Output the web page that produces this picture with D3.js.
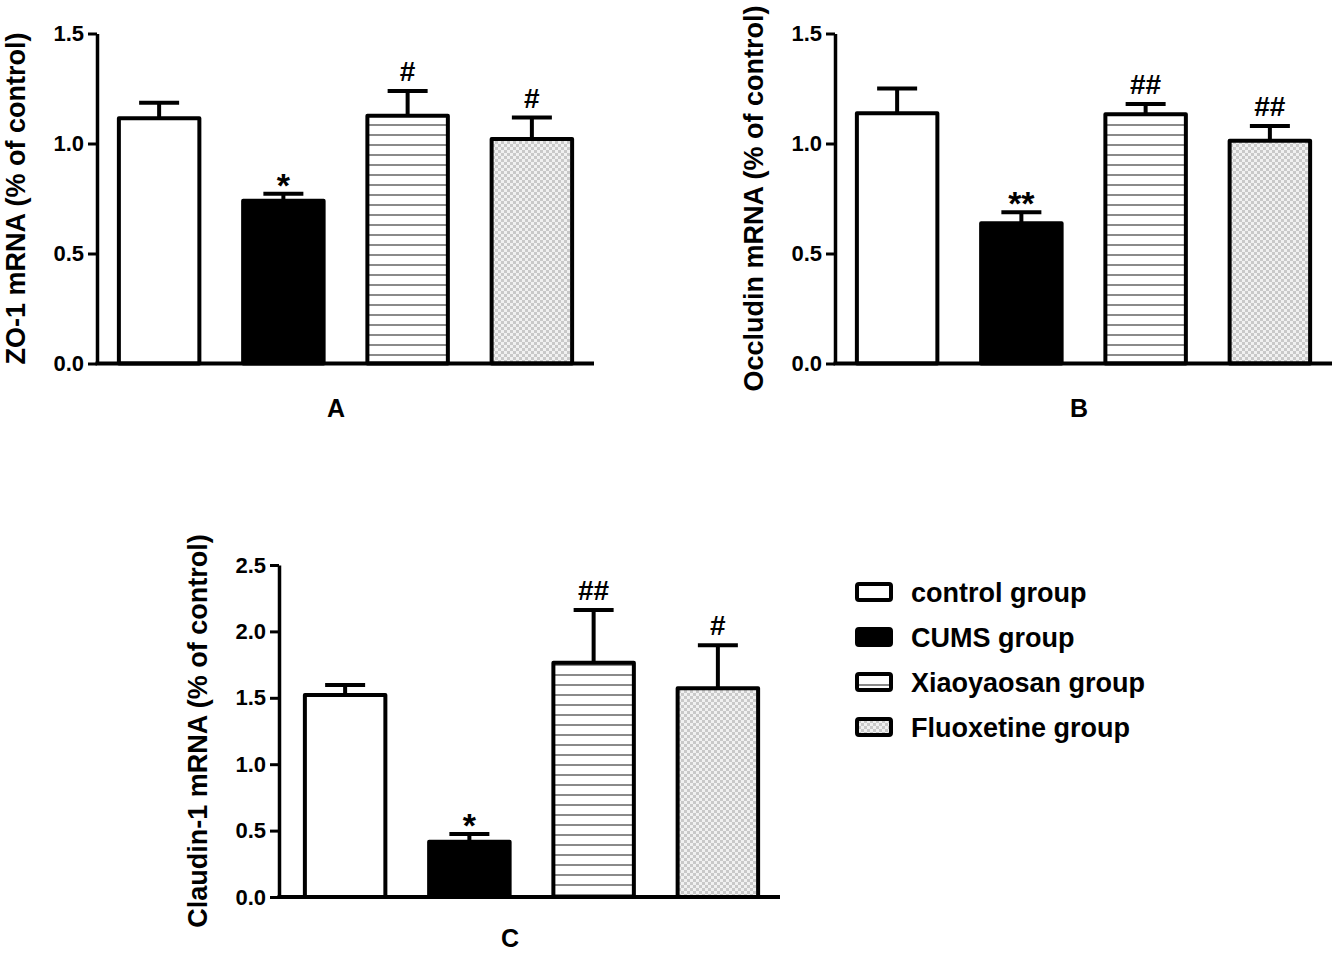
<!DOCTYPE html>
<html>
<head>
<meta charset="utf-8">
<script src="https://cdn.jsdelivr.net/npm/d3@7"></script>
<style>
  html, body { margin: 0; padding: 0; background: #fff; }
  svg { display: block; }
  text { font-family: "Liberation Sans", Arial, Helvetica, sans-serif; font-weight: bold; fill: #000; }
</style>
</head>
<body>
<svg id="chart" width="1335" height="953"></svg>
<script>
// ---------------- data ----------------
const groups = ["control group", "CUMS group", "Xiaoyaosan group", "Fluoxetine group"];

const zo1Means = [1.115, 0.74, 1.126, 1.02];
const zo1Errors = [0.07, 0.032, 0.113, 0.098];
const zo1Marks = ["", "*", "#", "#"];

const occludinMeans = [1.138, 0.638, 1.133, 1.013];
const occludinErrors = [0.112, 0.05, 0.047, 0.067];
const occludinMarks = ["", "**", "##", "##"];

const claudinMeans = [1.521, 0.416, 1.764, 1.572];
const claudinErrors = [0.075, 0.058, 0.397, 0.323];
const claudinMarks = ["", "*", "##", "#"];

const ticksAB = [0, 0.5, 1.0, 1.5];
const ticksC = [0, 0.5, 1.0, 1.5, 2.0, 2.5];

const yTitles = ["ZO-1 mRNA (% of control)", "Occludin mRNA (% of control)", "Claudin-1 mRNA (% of control)"];
const panelLetters = ["A", "B", "C"];

// ---------------- drawing ----------------
const svg = d3.select("#chart");
const defs = svg.append("defs");

// horizontal stripes pattern
const stripes = defs.append("pattern").attr("id", "stripes")
  .attr("patternUnits", "userSpaceOnUse").attr("width", 10).attr("height", 10);
stripes.append("rect").attr("width", 10).attr("height", 10).attr("fill", "#fff");
stripes.append("line").attr("x1", 0).attr("x2", 10).attr("y1", 5).attr("y2", 5)
  .attr("stroke", "#757575").attr("stroke-width", 1.7);

// fine checker pattern
const checker = defs.append("pattern").attr("id", "checker")
  .attr("patternUnits", "userSpaceOnUse").attr("width", 6).attr("height", 6);
checker.append("rect").attr("width", 6).attr("height", 6).attr("fill", "#f1f1f1");
checker.append("rect").attr("width", 3).attr("height", 3).attr("fill", "#c9c9c9");
checker.append("rect").attr("x", 3).attr("y", 3).attr("width", 3).attr("height", 3).attr("fill", "#c9c9c9");

const fills = ["#fff", "#000", "url(#stripes)", "url(#checker)"];

const panels = [
  { means: zo1Means, errors: zo1Errors, marks: zo1Marks, ticks: ticksAB, max: 1.5,
    axisX: 97, xRange: [97, 594], yRange: [363.5, 33.5], titleX: 15, letterPos: [336, 417] },
  { means: occludinMeans, errors: occludinErrors, marks: occludinMarks, ticks: ticksAB, max: 1.5,
    axisX: 835, xRange: [835, 1332], yRange: [363.5, 33.5], titleX: 753, letterPos: [1079, 417] },
  { means: claudinMeans, errors: claudinErrors, marks: claudinMarks, ticks: ticksC, max: 2.5,
    axisX: 279, xRange: [283, 780], yRange: [897, 565], titleX: 197, letterPos: [510, 947] }
];

panels.forEach((p, pi) => {
  const g = svg.append("g");
  const x = d3.scaleBand().domain(groups).range(p.xRange).paddingInner(0.32).paddingOuter(0.16);
  const y = d3.scaleLinear().domain([0, p.max]).range(p.yRange);
  const bw = x.bandwidth();

  // y axis
  const yAxis = g.append("g").attr("transform", `translate(${p.axisX},0)`)
    .call(d3.axisLeft(y).tickValues(p.ticks).tickFormat(d3.format(".1f")).tickSize(9).tickSizeOuter(0).tickPadding(4));
  yAxis.select(".domain").attr("stroke", "#000").attr("stroke-width", 3.5);
  yAxis.selectAll(".tick line").attr("stroke", "#000").attr("stroke-width", 3);
  yAxis.selectAll(".tick text").style("font-size", "22px").style("font-weight", "bold")
    .style("font-family", "'Liberation Sans', Arial, sans-serif").attr("fill", "#000");

  // error bars
  const eb = g.append("g");
  groups.forEach((grp, i) => {
    const cx = x(grp) + bw / 2;
    const top = p.means[i] + p.errors[i];
    eb.append("line").attr("x1", cx).attr("x2", cx).attr("y1", y(p.means[i])).attr("y2", y(top))
      .attr("stroke", "#000").attr("stroke-width", 4);
    eb.append("line").attr("x1", cx - 20).attr("x2", cx + 20).attr("y1", y(top)).attr("y2", y(top))
      .attr("stroke", "#000").attr("stroke-width", 4);
  });

  // bars
  g.append("g").selectAll("rect").data(groups).join("rect")
    .attr("x", d => x(d) + 2)
    .attr("width", bw - 4)
    .attr("y", (d, i) => y(p.means[i]))
    .attr("height", (d, i) => y(0) - y(p.means[i]))
    .attr("fill", (d, i) => fills[i])
    .attr("stroke", "#000").attr("stroke-width", 4).attr("stroke-linejoin", "round");

  // x axis baseline
  g.append("line").attr("x1", p.axisX - 1.5).attr("x2", p.xRange[1]).attr("y1", y(0)).attr("y2", y(0))
    .attr("stroke", "#000").attr("stroke-width", 4);

  // significance marks
  groups.forEach((grp, i) => {
    const m = p.marks[i];
    if (!m) return;
    const cx = x(grp) + bw / 2;
    const capY = y(p.means[i] + p.errors[i]);
    const isStar = m.indexOf("*") >= 0;
    g.append("text").attr("x", cx).attr("y", isStar ? capY + 3 : capY - 10)
      .attr("text-anchor", "middle")
      .style("font-size", isStar ? "34px" : "28px")
      .text(m);
  });

  // y title
  const midY = (p.yRange[0] + p.yRange[1]) / 2;
  g.append("text")
    .attr("transform", `translate(${p.titleX},${midY}) rotate(-90)`)
    .attr("text-anchor", "middle").attr("dy", "0.36em")
    .style("font-size", "27px")
    .text(yTitles[pi]);

  // panel letter
  g.append("text").attr("x", p.letterPos[0]).attr("y", p.letterPos[1])
    .attr("text-anchor", "middle").style("font-size", "25px").text(panelLetters[pi]);
});

// legend
const legendRows = [592, 637, 682, 727];
const legend = svg.append("g");
groups.forEach((grp, i) => {
  legend.append("rect").attr("x", 857).attr("y", legendRows[i] - 8).attr("width", 34).attr("height", 16)
    .attr("rx", 2).attr("fill", fills[i]).attr("stroke", "#000").attr("stroke-width", 4);
  legend.append("text").attr("x", 911).attr("y", legendRows[i]).attr("dy", "0.36em")
    .style("font-size", "27px").text(grp);
});
</script>
</body>
</html>
